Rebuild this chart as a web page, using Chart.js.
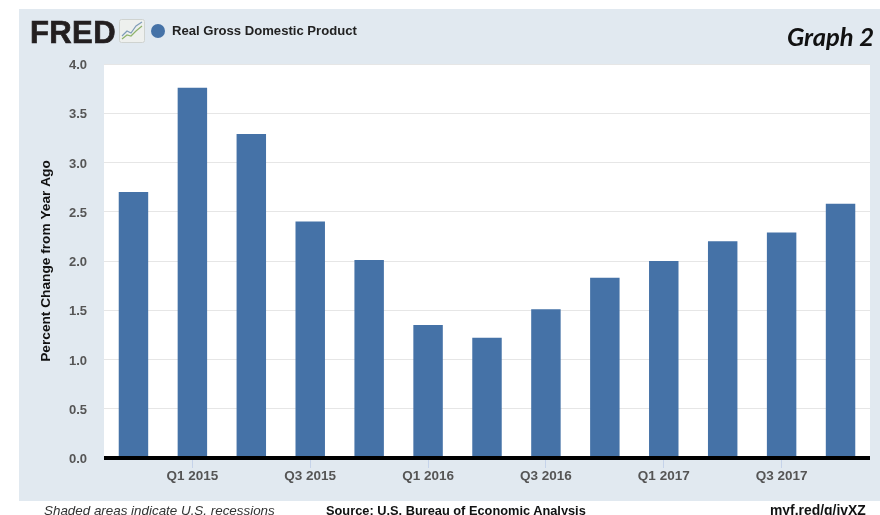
<!DOCTYPE html>
<html>
<head>
<meta charset="utf-8">
<script src="https://cdn.jsdelivr.net/npm/chart.js@4"></script>
<style>
  html, body { margin: 0; padding: 0; background: #fff; overflow: hidden; }
  #page { position: relative; width: 880px; height: 515px; overflow: hidden; font-family: "Liberation Sans", sans-serif; }
  #panel { position: absolute; left: 19px; top: 9px; width: 861px; height: 492px; background: #e1e9f0; }
  #grafica { position: absolute; left: 0; top: 0; }
  .txt { position: absolute; white-space: nowrap; }
  #fred { left: 30px; top: 16px; font-size: 31px; line-height: 34px; font-weight: bold; color: #231f20; letter-spacing: 0.4px; -webkit-text-stroke: 0.7px #231f20; }
  #icono { position: absolute; left: 119px; top: 19px; }
  #punto { position: absolute; left: 151px; top: 24px; width: 14px; height: 14px; border-radius: 50%; background: #4572a7; }
  #serie { left: 172px; top: 23px; font-size: 13.1px; line-height: 16px; font-weight: bold; color: #222; }
  #graph2 { left: 787px; top: 21px; font-family: "Lato", sans-serif; font-size: 25.6px; line-height: 30px; font-weight: bold; font-style: italic; color: #111; }
  #nota { left: 44px; top: 503px; font-size: 13.4px; line-height: 15px; font-style: italic; color: #333; }
  #fuente { left: 326px; top: 503px; font-size: 12.8px; line-height: 15px; font-weight: bold; color: #111; }
  #enlace { left: 770px; top: 503px; font-size: 13.9px; line-height: 15px; font-weight: bold; color: #111; }
</style>
</head>
<body>
<div id="page">
  <div id="panel"></div>
  <canvas id="grafica" width="880" height="515"></canvas>
  <div class="txt" id="fred">FRED</div>
  <svg id="icono" width="26" height="24" viewBox="0 0 26 24">
    <rect x="0.5" y="0.5" width="25" height="23" rx="2" fill="#eef0ee" stroke="#cfd3d0"/>
    <polyline points="3,17 8,12 12,14 17,7 23,3" fill="none" stroke="#7f9cb8" stroke-width="1.2"/>
    <polyline points="3,20 8,16 12,17 17,12 23,7" fill="none" stroke="#8fb36b" stroke-width="1.2"/>
  </svg>
  <div id="punto"></div>
  <div class="txt" id="serie">Real Gross Domestic Product</div>
  <div class="txt" id="graph2">Graph 2</div>
  <div class="txt" id="nota">Shaded areas indicate U.S. recessions</div>
  <div class="txt" id="fuente">Source: U.S. Bureau of Economic Analysis</div>
  <div class="txt" id="enlace">myf.red/g/jvXZ</div>
</div>
<script>
const trimestres = ["Q4 2014","Q1 2015","Q2 2015","Q3 2015","Q4 2015","Q1 2016","Q2 2016","Q3 2016","Q4 2016","Q1 2017","Q2 2017","Q3 2017","Q4 2017"];
const cambioAnual = [2.70, 3.76, 3.29, 2.40, 2.01, 1.35, 1.22, 1.51, 1.83, 2.00, 2.20, 2.29, 2.58];
const etiquetasX = ["Q1 2015","Q3 2015","Q1 2016","Q3 2016","Q1 2017","Q3 2017"];

const azul = "#4572a7";
const tituloY = "Percent Change from Year Ago";

Chart.defaults.font.family = '"Liberation Sans", sans-serif';

// fondo blanco solo en el area de la grafica
const fondoBlanco = {
  id: "fondoBlanco",
  beforeDraw(chart) {
    const a = chart.chartArea;
    chart.ctx.fillStyle = "#fff";
    chart.ctx.fillRect(a.left, a.top, a.right - a.left, a.bottom - a.top);
  }
};

// linea negra del eje x, sin sobresalir del area
const lineaEje = {
  id: "lineaEje",
  afterDatasetsDraw(chart) {
    const a = chart.chartArea;
    const ctx = chart.ctx;
    ctx.save();
    ctx.strokeStyle = "#000";
    ctx.lineWidth = 4;
    ctx.beginPath();
    ctx.moveTo(a.left, a.bottom);
    ctx.lineTo(a.right, a.bottom);
    ctx.stroke();
    ctx.restore();
  }
};

new Chart(document.getElementById("grafica"), {
  type: "bar",
  data: {
    labels: trimestres,
    datasets: [{
      label: "Real Gross Domestic Product",
      data: cambioAnual,
      backgroundColor: azul,
      categoryPercentage: 1,
      barPercentage: 0.5
    }]
  },
  options: {
    responsive: false,
    animation: false,
    layout: { padding: { top: 64, right: 10, left: 38, bottom: 0 } },
    plugins: { legend: { display: false }, tooltip: { enabled: false } },
    scales: {
      x: {
        afterFit: (escala) => { escala.height = 57; },
        border: { display: false },
        grid: {
          offset: false,
          drawOnChartArea: false,
          tickLength: 10,
          tickColor: (ctx) => etiquetasX.includes(trimestres[ctx.index]) ? "#c5d3ea" : "transparent"
        },
        ticks: {
          autoSkip: false,
          maxRotation: 0,
          padding: 0,
          color: "#555",
          font: { size: 13.5, weight: "bold" },
          callback: (valor, i) => etiquetasX.includes(trimestres[i]) ? trimestres[i] : ""
        }
      },
      y: {
        min: 0,
        max: 4,
        afterFit: (escala) => { escala.width = 66; },
        border: { display: false },
        grid: { color: "#e6e6e6", tickLength: 0 },
        title: {
          display: true,
          text: tituloY,
          color: "#111",
          font: { size: 13.7, weight: "bold" },
          padding: { top: 0, bottom: 0 }
        },
        ticks: {
          stepSize: 0.5,
          padding: 17,
          labelOffset: 1.5,
          color: "#555",
          font: { size: 13, weight: "bold" },
          callback: (valor) => Number(valor).toFixed(1)
        }
      }
    }
  },
  plugins: [fondoBlanco, lineaEje]
});
</script>
</body>
</html>
